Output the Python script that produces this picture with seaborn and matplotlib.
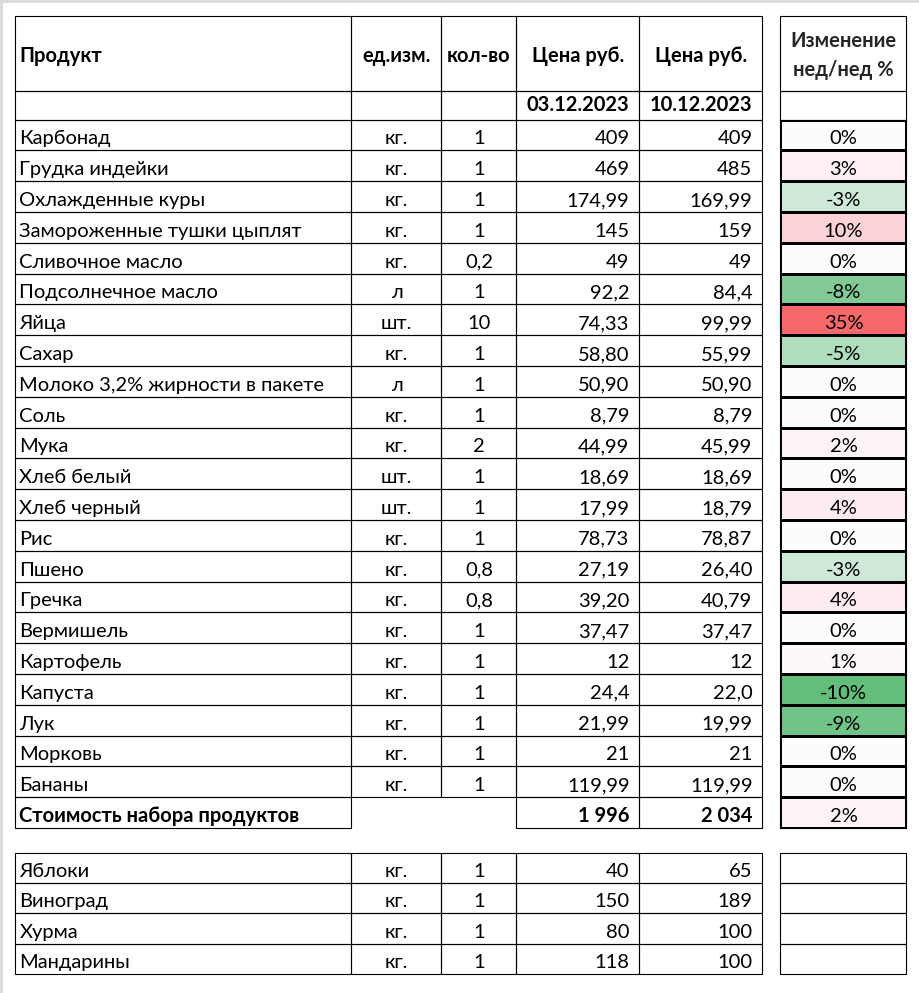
import numpy as np
import pandas as pd
import matplotlib
matplotlib.use("Agg")
import matplotlib.pyplot as plt
from matplotlib.colors import LinearSegmentedColormap, TwoSlopeNorm
from matplotlib.patches import Rectangle
import seaborn as sns

# ---------------- data ----------------
header_cols = ["Продукт", "ед.изм.", "кол-во", "Цена руб.", "Цена руб."]
header_change = ["Изменение", "нед/нед %"]
dates = ["03.12.2023", "10.12.2023"]

products = ["Карбонад", "Грудка индейки", "Охлажденные куры", "Замороженные тушки цыплят",
            "Сливочное масло", "Подсолнечное масло", "Яйца", "Сахар",
            "Молоко 3,2% жирности в пакете", "Соль", "Мука", "Хлеб белый", "Хлеб черный",
            "Рис", "Пшено", "Гречка", "Вермишель", "Картофель", "Капуста", "Лук",
            "Морковь", "Бананы"]
units = ["кг.", "кг.", "кг.", "кг.", "кг.", "л", "шт.", "кг.", "л", "кг.", "кг.", "шт.",
         "шт.", "кг.", "кг.", "кг.", "кг.", "кг.", "кг.", "кг.", "кг.", "кг."]
qty = ["1", "1", "1", "1", "0,2", "1", "10", "1", "1", "1", "2", "1", "1", "1", "0,8",
       "0,8", "1", "1", "1", "1", "1", "1"]
price_1 = ["409", "469", "174,99", "145", "49", "92,2", "74,33", "58,80", "50,90", "8,79",
           "44,99", "18,69", "17,99", "78,73", "27,19", "39,20", "37,47", "12", "24,4",
           "21,99", "21", "119,99"]
price_2 = ["409", "485", "169,99", "159", "49", "84,4", "99,99", "55,99", "50,90", "8,79",
           "45,99", "18,69", "18,79", "78,87", "26,40", "40,79", "37,47", "12", "22,0",
           "19,99", "21", "119,99"]
change_pct = [0, 3, -3, 10, 0, -8, 35, -5, 0, 0, 2, 0, 4, 0, -3, 4, 0, 1, -10, -9, 0, 0]

total_label = "Стоимость набора продуктов"
total_1 = "1 996"
total_2 = "2 034"
total_change = 2

fruits = ["Яблоки", "Виноград", "Хурма", "Мандарины"]
fruit_units = ["кг.", "кг.", "кг.", "кг."]
fruit_qty = ["1", "1", "1", "1"]
fruit_price_1 = ["40", "150", "80", "118"]
fruit_price_2 = ["65", "189", "100", "100"]

# ---------------- layout ----------------
sns.set_theme(style="white")
plt.rcParams['font.family'] = ['Lato', 'DejaVu Sans']

W, H = 920, 993
fig = plt.figure(figsize=(W / 100, H / 100), dpi=100)
fig.patch.set_facecolor("white")
ax = fig.add_axes([0, 0, 1, 1])
ax.set_xlim(0, W)
ax.set_ylim(H, 0)
ax.axis("off")

LW = 0.8
FS = 14.5
BASE_OFF = 6.0  # baseline distance above row bottom
col_x = [15.5, 351.5, 441.5, 516.5, 639.5, 762.5]
chg_x = [780.5, 906.5]
head_top, head_bot, date_bot = 15.5, 90.5, 119.5
body_bot = 828.0
n_body = len(products) + 1
rows = np.linspace(date_bot, body_bot, n_body + 1)
frows = np.linspace(852.5, 974.0, len(fruits) + 1)


def cell(x0, x1, y0, y1):
    ax.add_patch(Rectangle((x0, y0), x1 - x0, y1 - y0, fill=False,
                           edgecolor="black", linewidth=LW, zorder=3))


def put(text, col, ybase, bold=False, kind="center"):
    x0, x1 = col_x[col], col_x[col + 1]
    if kind == "left":
        x, ha = x0 + 4, "left"
    elif kind == "right":
        x, ha = x1 - 10, "right"
    else:
        x, ha = (x0 + x1) / 2, "center"
    ax.text(x, ybase, text, ha=ha, va="baseline", fontsize=FS,
            fontweight="bold" if bold else "normal", color="black", zorder=4)


kinds = ["left", "center", "center", "right", "right"]

# header
for c in range(5):
    cell(col_x[c], col_x[c + 1], head_top, head_bot)
    cell(col_x[c], col_x[c + 1], head_bot, date_bot)
    put(header_cols[c], c, 62.0, bold=True, kind="left" if c == 0 else "center")
put(dates[0], 3, 111.0, bold=True, kind="right")
put(dates[1], 4, 111.0, bold=True, kind="right")

# body
for i in range(len(products)):
    y0, y1 = rows[i], rows[i + 1]
    vals = [products[i], units[i], qty[i], price_1[i], price_2[i]]
    for c in range(5):
        cell(col_x[c], col_x[c + 1], y0, y1)
        put(vals[c], c, y1 - BASE_OFF, kind=kinds[c])

# total row
y0, y1 = rows[-2], rows[-1]
cell(col_x[0], col_x[1], y0, y1)
cell(col_x[3], col_x[4], y0, y1)
cell(col_x[4], col_x[5], y0, y1)
put(total_label, 0, y1 - BASE_OFF, bold=True, kind="left")
put(total_1, 3, y1 - BASE_OFF, bold=True, kind="right")
put(total_2, 4, y1 - BASE_OFF, bold=True, kind="right")

# fruits
for i in range(len(fruits)):
    y0, y1 = frows[i], frows[i + 1]
    vals = [fruits[i], fruit_units[i], fruit_qty[i], fruit_price_1[i], fruit_price_2[i]]
    for c in range(5):
        cell(col_x[c], col_x[c + 1], y0, y1)
        put(vals[c], c, y1 - BASE_OFF, kind=kinds[c])
    cell(chg_x[0], chg_x[1], y0, y1)

# change column header cells
cell(chg_x[0], chg_x[1], head_top, head_bot)
cell(chg_x[0], chg_x[1], head_bot, date_bot)
xc = (chg_x[0] + chg_x[1]) / 2
ax.text(xc, 47.0, header_change[0], ha="center", va="baseline", fontsize=FS,
        fontweight="bold", zorder=4)
ax.text(xc, 75.5, header_change[1], ha="center", va="baseline", fontsize=FS,
        fontweight="bold", zorder=4)

# light grey screenshot edge
ax.plot([1, 1], [0, H], color="#d9d9d9", lw=2, zorder=5)
ax.plot([0, W], [1, 1], color="#d9d9d9", lw=2, zorder=5)

# ---------------- heatmap for change column ----------------
vals = change_pct + [total_change]
df = pd.DataFrame({"chg": vals})
annot = np.array([[f"{v}%"] for v in vals])
cmap = LinearSegmentedColormap.from_list("excel", ["#63BE7B", "#FCFCFF", "#F8696B"])
norm = TwoSlopeNorm(vmin=min(vals), vcenter=0, vmax=max(vals))
hax = fig.add_axes([chg_x[0] / W, 1 - body_bot / H,
                    (chg_x[1] - chg_x[0]) / W, (body_bot - date_bot) / H])
sns.heatmap(df, ax=hax, cmap=cmap, norm=norm, annot=annot, fmt="", cbar=False,
            linewidths=LW, linecolor="black", xticklabels=False, yticklabels=False,
            annot_kws=dict(color="black", fontsize=FS))
row_h = (body_bot - date_bot) / n_body
for t in hax.texts:
    x, y = t.get_position()
    t.set_verticalalignment("baseline")
    t.set_position((x, np.floor(y) + 1 - BASE_OFF / row_h))
for s in hax.spines.values():
    s.set_visible(True)
    s.set_color("black")
    s.set_linewidth(LW)

fig.savefig("out.png", dpi=100, facecolor="white")
